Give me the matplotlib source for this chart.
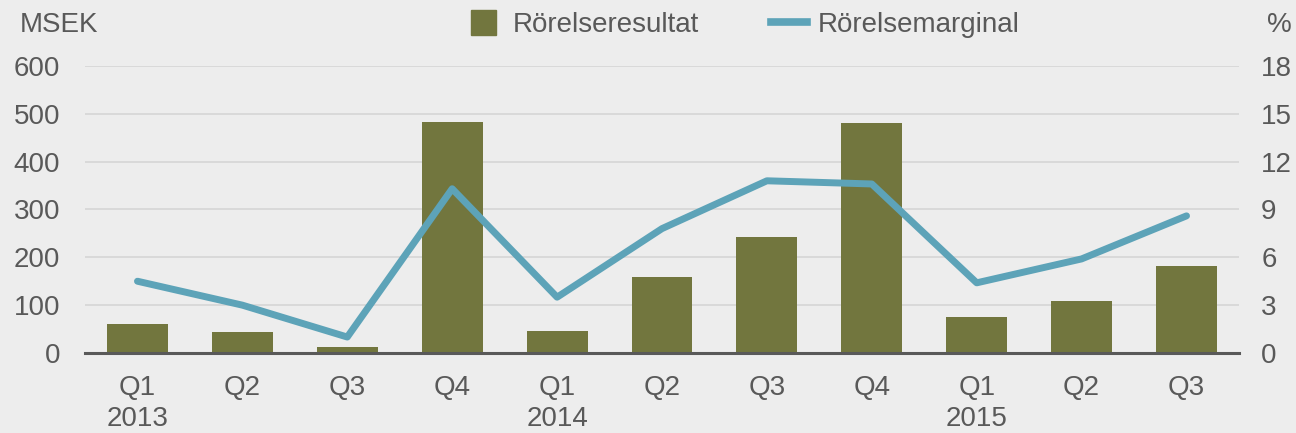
import matplotlib
matplotlib.use("Agg")
import matplotlib.pyplot as plt
from matplotlib.lines import Line2D

quarters = ["Q1\n2013", "Q2", "Q3", "Q4", "Q1\n2014", "Q2", "Q3", "Q4", "Q1\n2015", "Q2", "Q3"]
rorelseresultat = [60, 43, 13, 483, 45, 158, 242, 480, 76, 109, 182]
rorelsemarginal = [4.5, 3.0, 1.0, 10.3, 3.5, 7.8, 10.8, 10.6, 4.4, 5.9, 8.6]
left_ticks = [0, 100, 200, 300, 400, 500, 600]
right_ticks = [0, 3, 6, 9, 12, 15, 18]

bg = "#EDEDED"
olive = "#72763E"
blue = "#5DA3B8"
txt = "#595959"

plt.rcParams["font.family"] = ["Liberation Sans", "DejaVu Sans"]

fig = plt.figure(figsize=(12.96, 4.33), dpi=100, facecolor=bg)
ax = fig.add_axes([0.0656, 0.1848, 0.8904, 0.6628])
ax.set_facecolor(bg)

x = list(range(len(quarters)))
ax.bar(x, rorelseresultat, width=0.58, color=olive, zorder=2)
ax.set_ylim(0, 600)
ax.set_yticks(left_ticks)
ax.set_xlim(-0.5, 10.5)
ax.set_xticks(x)
ax.set_xticklabels(quarters, linespacing=1.25)
ax.grid(axis="y", color="#D6D6D6", linewidth=1.2, zorder=0)
ax.set_axisbelow(True)
for s in ["top", "left", "right"]:
    ax.spines[s].set_visible(False)
ax.spines["bottom"].set_color(txt)
ax.spines["bottom"].set_linewidth(2.2)
ax.spines["bottom"].set_zorder(5)
ax.tick_params(axis="both", length=0, labelsize=20, colors=txt)
ax.tick_params(axis="x", pad=16)
ax.tick_params(axis="y", pad=18)

ax2 = ax.twinx()
ax2.plot(x, rorelsemarginal, color=blue, linewidth=5, solid_capstyle="round", zorder=3)
ax2.set_ylim(0, 18)
ax2.set_yticks(right_ticks)
for s in ax2.spines.values():
    s.set_visible(False)
ax2.tick_params(axis="y", length=0, labelsize=20, colors=txt, pad=16)

fig.text(0.015, 0.942, "MSEK", fontsize=20, color=txt, va="center", ha="left")
fig.text(0.997, 0.942, "%", fontsize=20, color=txt, va="center", ha="right")

handles = [Line2D([], [], marker="s", markersize=18, color=olive, linestyle="none"),
           Line2D([0], [0], color=blue, linewidth=5.5)]
fig.legend(handles, ["Rörelseresultat", "Rörelsemarginal"], loc="center",
           bbox_to_anchor=(0.573, 0.942), ncol=2, frameon=False, fontsize=20,
           labelcolor=txt, handlelength=1.3, handletextpad=0.4, columnspacing=2.6)

fig.savefig("out.png", dpi=100, facecolor=bg)
plt.close(fig)
